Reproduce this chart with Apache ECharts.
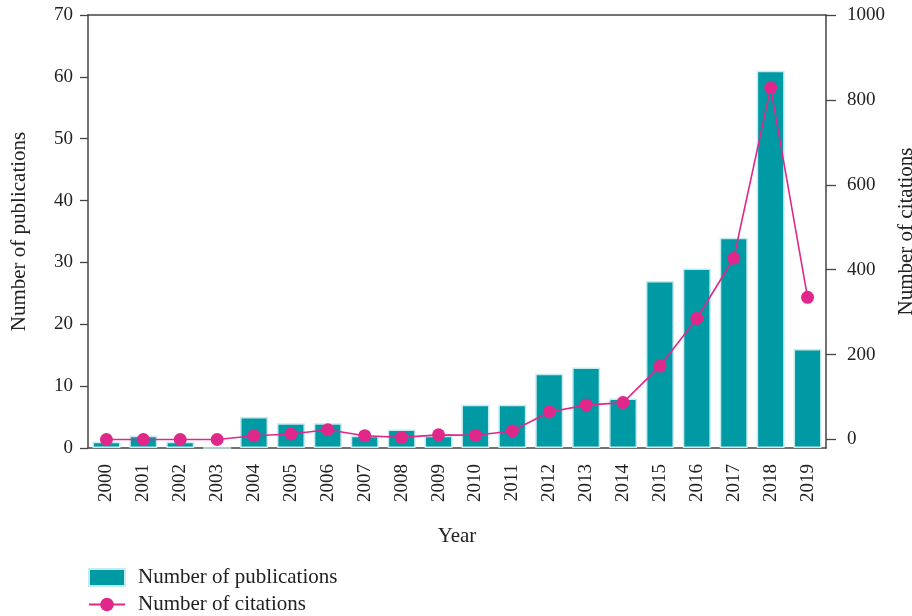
<!DOCTYPE html>
<html><head><meta charset="utf-8">
<script src="https://cdn.jsdelivr.net/npm/echarts@6/dist/echarts.min.js"></script>
<style>html,body{margin:0;padding:0;background:#fff}#c{width:912px;height:616px}</style>
</head><body><div id="c"></div>
<script>
const years = ['2000','2001','2002','2003','2004','2005','2006','2007','2008','2009','2010','2011','2012','2013','2014','2015','2016','2017','2018','2019'];
const publications = [1,2,1,0,5,4,4,2,3,2,7,7,12,13,8,27,29,34,61,16];
const citations = [0,0,0,0,9,13,23,9,5,11,10,20,65,81,87,173,285,427,829,335];
const leftTicks = [0,10,20,30,40,50,60,70];
const rightTicks = [0,200,400,600,800,1000];

const FONT = 'Liberation Serif';
const TXT = '#222';
const AX = '#444';
const chart = echarts.init(document.getElementById('c'));
chart.setOption({
  animation:false,
  textStyle:{fontFamily:FONT},
  grid:{left:88,right:86,top:15,bottom:168,containLabel:false,outerBoundsMode:'none'},
  legend:{
    orient:'vertical', left:88, top:567, itemGap:6, itemWidth:36, itemHeight:17, padding:0,
    textStyle:{fontFamily:FONT,fontSize:21,color:TXT,padding:[0,0,0,8]},
    data:[{name:'Number of publications',icon:'rect'},{name:'Number of citations'}]
  },
  xAxis:[{
    type:'category', data:years, position:'bottom',
    name:'Year', nameLocation:'middle', nameGap:78,
    nameTextStyle:{fontFamily:FONT,fontSize:21,color:TXT},
    axisLine:{onZero:false,lineStyle:{color:AX,width:1.5}},
    axisTick:{alignWithLabel:true,length:10,lineStyle:{color:AX,width:1.3}},
    axisLabel:{rotate:90,fontFamily:FONT,fontSize:19,color:TXT,margin:16,interval:0}
  },{
    type:'category', data:years, position:'top',
    axisLine:{onZero:false,lineStyle:{color:AX,width:1.5}},
    axisTick:{alignWithLabel:true,inside:true,length:2,lineStyle:{color:'#aaa',width:1}},
    axisLabel:{show:false}
  }],
  yAxis:[{
    type:'value', min:0, max:70, interval:10, position:'left',
    name:'Number of publications', nameLocation:'middle', nameGap:58, nameRotate:90,
    nameTextStyle:{fontFamily:FONT,fontSize:21,color:TXT},
    axisLine:{show:true,lineStyle:{color:AX,width:1.5}},
    axisTick:{show:true,length:8,lineStyle:{color:AX,width:1.3}},
    axisLabel:{fontFamily:FONT,fontSize:19,color:TXT,margin:15,customValues:leftTicks},
    splitLine:{show:false}
  },{
    type:'value', min:-20, max:1000, position:'right',
    name:'Number of citations', nameLocation:'middle', nameGap:66, nameRotate:90,
    nameTextStyle:{fontFamily:FONT,fontSize:21,color:TXT},
    axisLine:{show:true,lineStyle:{color:AX,width:1.5}},
    axisTick:{show:true,length:10,lineStyle:{color:AX,width:1.3},customValues:rightTicks},
    axisLabel:{fontFamily:FONT,fontSize:19,color:TXT,margin:21,customValues:rightTicks,formatter:v=>String(v)},
    splitLine:{show:false}
  }],
  series:[{
    name:'Number of publications', type:'bar', xAxisIndex:0, yAxisIndex:0,
    data:publications, barWidth:28,
    itemStyle:{color:'#009aa4',borderColor:'#c4ecee',borderWidth:1.5}
  },{
    name:'Number of citations', type:'line', xAxisIndex:0, yAxisIndex:1,
    data:citations, symbol:'circle', symbolSize:13,
    lineStyle:{color:'#e0288b',width:1.6},
    itemStyle:{color:'#e0288b'}
  }]
});
</script></body></html>
